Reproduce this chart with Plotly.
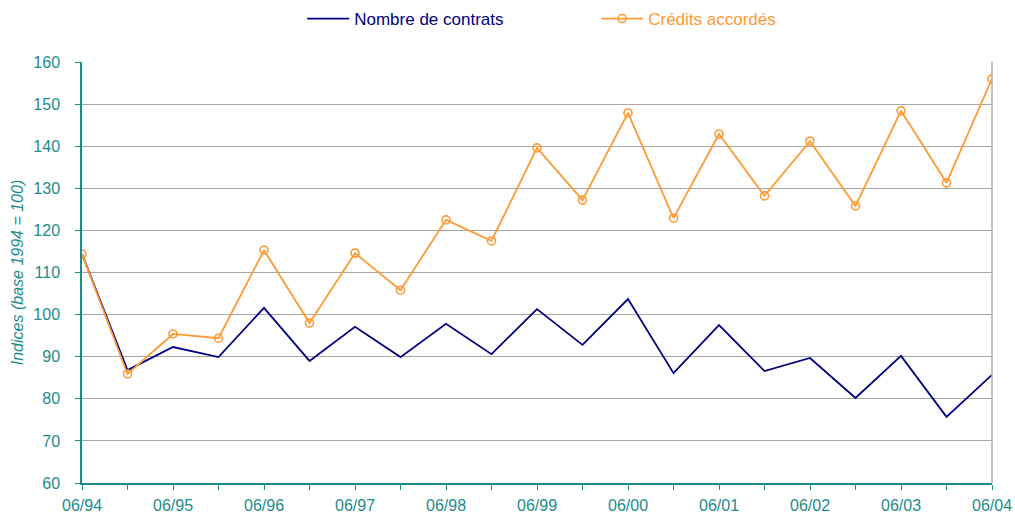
import plotly.graph_objects as go

periods = ["06/94", "12/94", "06/95", "12/95", "06/96", "12/96", "06/97", "12/97",
           "06/98", "12/98", "06/99", "12/99", "06/00", "12/00", "06/01", "12/01",
           "06/02", "12/02", "06/03", "12/03", "06/04"]
contrats = [114.4, 86.8, 92.3, 89.9, 101.6, 89.0, 97.1, 89.9, 97.8, 90.6, 101.3,
            92.8, 103.7, 86.1, 97.5, 86.6, 89.7, 80.2, 90.2, 75.7, 85.7]
credits = [114.4, 85.9, 95.4, 94.4, 115.3, 98.0, 114.6, 105.8, 122.5, 117.5, 139.6,
           127.2, 147.9, 122.9, 142.9, 128.2, 141.2, 125.8, 148.4, 131.3, 156.0]
tick_labels = [p if p.startswith("06") else "" for p in periods]

teal = "#1a8c8c"
navy = "#000080"
orange = "#FF9933"
x = list(range(len(periods)))

fig = go.Figure()
fig.add_trace(go.Scatter(x=x, y=contrats, mode="lines",
                         name=f"<span style='color:{navy}'>Nombre de contrats</span>",
                         line=dict(color=navy, width=1.8)))
fig.add_trace(go.Scatter(x=x, y=credits, mode="lines+markers",
                         name=f"<span style='color:{orange}'>Crédits accordés</span>",
                         line=dict(color=orange, width=1.8),
                         marker=dict(symbol="circle-open", size=8, color=orange,
                                     line=dict(width=1.6))))

fig.update_layout(
    width=1015, height=516,
    margin=dict(l=82, r=23, t=62, b=33, autoexpand=False),
    paper_bgcolor="white", plot_bgcolor="white",
    font=dict(family="Liberation Sans, Arial", size=16, color=teal),
    legend=dict(orientation="h", x=0.242, xanchor="left", y=1 - 19 / 516, yanchor="middle",
                yref="container", font=dict(size=17), itemwidth=42,
                entrywidthmode="pixels", entrywidth=237),
    showlegend=True,
)
fig.update_xaxes(range=[0, 20], tickvals=x, ticktext=tick_labels, ticks="outside",
                 ticklen=5, tickcolor=teal, showline=True, linecolor=teal, linewidth=1.5,
                 showgrid=False, zeroline=False, automargin=False, ticklabelstandoff=2,
                 tickfont=dict(color=teal, size=16))
fig.update_yaxes(range=[60, 160], dtick=10, ticks="outside", ticklen=5, tickcolor=teal,
                 showline=True, linecolor=teal, linewidth=1.5, showgrid=True,
                 gridcolor="#a6a6a6", gridwidth=1, zeroline=False, automargin=False,
                 ticklabelstandoff=12, tickfont=dict(color=teal, size=16),
                 title=dict(text="<i>Indices (base 1994 = 100)</i>", font=dict(size=16, color=teal),
                            standoff=6))
fig.add_shape(type="line", xref="paper", yref="paper", x0=1, x1=1, y0=0, y1=1,
              line=dict(color="#b0b0b0", width=1.5))

fig.write_html("out.html", config={"displayModeBar": False},
               post_script="document.body.style.margin='0';document.body.style.overflow='hidden';")
